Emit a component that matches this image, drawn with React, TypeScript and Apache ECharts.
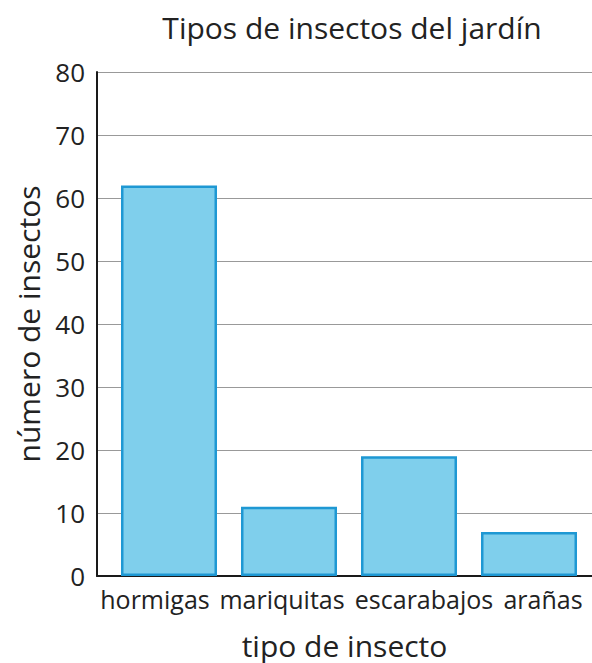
import React, { useEffect, useRef } from "react";
import * as echarts from "echarts";

const categories = ["hormigas", "mariquitas", "escarabajos", "arañas"];
const counts = [62, 11, 19, 7];
const titleText = "Tipos de insectos del jardín";
const xName = "tipo de insecto";
const yName = "número de insectos";

const FONT = "'Open Sans', 'Noto Sans', sans-serif";

// horizontal nudges of the category labels (label layout in the reference)
const labelShift = [-14, -7, 15, 14];

export default function App() {
  const ref = useRef<HTMLDivElement>(null);
  useEffect(() => {
    document.body.style.margin = "0";
    if (!ref.current) return;
    const chart = echarts.init(ref.current, undefined, { renderer: "svg" });
    const rich: Record<string, any> = {};
    labelShift.forEach((d, i) => {
      rich["l" + i] = {
        fontFamily: FONT,
        fontSize: 25,
        color: "#222",
        padding: d < 0 ? [0, -2 * d, 0, 0] : [0, 0, 0, 2 * d],
      };
    });
    chart.setOption({
      animation: false,
      title: {
        text: titleText,
        left: 347,
        top: 7,
        textAlign: "center",
        textStyle: { fontFamily: FONT, fontSize: 30, fontWeight: "normal", color: "#222" },
      },
      grid: [
        { left: 97, top: 72, width: 495, bottom: 87, containLabel: false, outerBoundsMode: "none" },
        { left: 109, top: 72, width: 480, bottom: 87, containLabel: false, outerBoundsMode: "none" },
      ],
      xAxis: [
        {
          gridIndex: 0,
          type: "value",
          min: 0,
          max: 1,
          axisLine: { show: true, onZero: false, lineStyle: { color: "#1a1a1a", width: 2 } },
          axisTick: { show: false },
          axisLabel: { show: false },
          splitLine: { show: false },
          name: xName,
          nameLocation: "middle",
          nameGap: 54,
          nameTextStyle: { fontFamily: FONT, fontSize: 30, color: "#222" },
        },
        {
          gridIndex: 1,
          type: "category",
          data: categories,
          axisLine: { show: false },
          axisTick: { show: false },
          axisLabel: {
            fontFamily: FONT,
            fontSize: 25,
            color: "#222",
            margin: 10,
            interval: 0,
            formatter: (v: string, i: number) => `{l${i}|${v}}`,
            rich,
          },
        },
      ],
      yAxis: [
        {
          gridIndex: 0,
          type: "value",
          min: 0,
          max: 80,
          interval: 10,
          axisLine: { show: true, lineStyle: { color: "#1a1a1a", width: 2 } },
          axisTick: { show: false },
          axisLabel: { fontFamily: FONT, fontSize: 26, color: "#222", margin: 12 },
          splitLine: { show: true, lineStyle: { color: "#999", width: 1.2 } },
          name: yName,
          nameLocation: "middle",
          nameGap: 54,
          nameTextStyle: { fontFamily: FONT, fontSize: 30, color: "#222" },
        },
        {
          gridIndex: 1,
          type: "value",
          min: 0,
          max: 80,
          show: false,
          splitLine: { show: false },
        },
      ],
      series: [
        {
          type: "bar",
          xAxisIndex: 1,
          yAxisIndex: 1,
          data: counts,
          barWidth: 96,
          itemStyle: { color: "#7fcfec", borderColor: "#1e98d3", borderWidth: 2.5 },
        },
      ],
    });
    return () => chart.dispose();
  }, []);
  return <div ref={ref} style={{ width: 592, height: 663 }} />;
}
